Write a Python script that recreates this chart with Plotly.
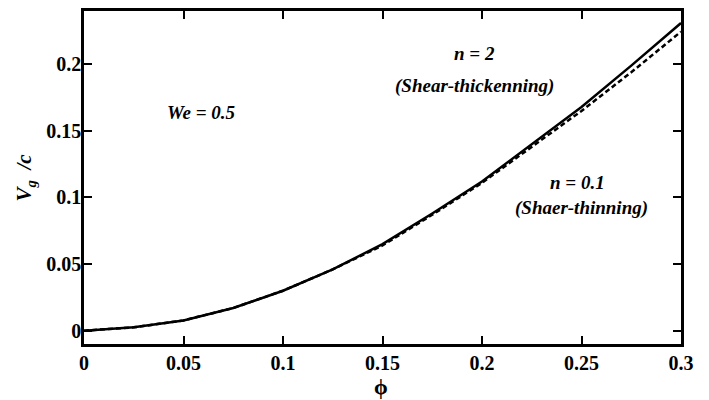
import plotly.graph_objects as go

phi = [0, 0.025, 0.05, 0.075, 0.1, 0.125, 0.15, 0.175, 0.2, 0.225, 0.25, 0.275, 0.3]
vg_n2 = [0, 0.0025, 0.0077, 0.017, 0.030, 0.046, 0.065, 0.088, 0.112, 0.140, 0.168, 0.199, 0.231]
vg_n01 = [0, 0.0025, 0.0077, 0.017, 0.030, 0.046, 0.064, 0.087, 0.111, 0.138, 0.165, 0.194, 0.2245]

x_ticks = [0, 0.05, 0.1, 0.15, 0.2, 0.25, 0.3]
x_ticklabels = ["0", "0.05", "0.1", "0.15", "0.2", "0.25", "0.3"]
y_ticks = [0, 0.05, 0.1, 0.15, 0.2]
y_ticklabels = ["0", "0.05", "0.1", "0.15", "0.2"]

FONT = "Liberation Serif, Times New Roman, DejaVu Serif, serif"

fig = go.Figure()
fig.add_trace(go.Scatter(x=phi, y=vg_n2, mode="lines",
                         line=dict(color="black", width=2.5), name="n = 2"))
fig.add_trace(go.Scatter(x=phi, y=vg_n01, mode="lines",
                         line=dict(color="black", width=2.5, dash="5px,3px"), name="n = 0.1"))

ann_font = dict(family=FONT, size=19, color="black")
annotations = [
    dict(x=0.059, y=0.164, text="<b><i>We = 0.5</i></b>"),
    dict(x=0.196, y=0.208, text="<b><i>n = 2</i></b>"),
    dict(x=0.196, y=0.184, text="<b><i>(Shear-thickenning)</i></b>"),
    dict(x=0.248, y=0.111, text="<b><i>n = 0.1</i></b>"),
    dict(x=0.250, y=0.092, text="<b><i>(Shaer-thinning)</i></b>"),
]
for a in annotations:
    fig.add_annotation(x=a["x"], y=a["y"], text=a["text"], showarrow=False,
                       xref="x", yref="y", font=ann_font,
                       xanchor="center", yanchor="middle")

# axis titles
fig.add_annotation(x=0.498, y=-0.128, xref="x domain", yref="y domain",
                   xanchor="center", yanchor="middle",
                   text="<b>ϕ</b>", showarrow=False,
                   font=dict(family=FONT, size=22, color="black"))
fig.add_annotation(x=-0.099, y=0.5, xref="x domain", yref="y domain", textangle=-90,
                   xanchor="center", yanchor="middle",
                   text="<b><i>V</i></b><sub><b><i>g</i></b></sub><b><i>  /c</i></b>",
                   showarrow=False, font=dict(family=FONT, size=21, color="black"))

axis_common = dict(
    showline=True, linecolor="black", linewidth=2.5, mirror="ticks",
    ticks="inside", ticklen=8, tickwidth=2, tickcolor="black",
    showgrid=False, zeroline=False, automargin=False,
    tickfont=dict(family=FONT, size=20, color="black"),
)

fig.update_layout(
    width=709, height=400,
    margin=dict(l=76, r=36, t=3, b=64),
    paper_bgcolor="white", plot_bgcolor="white",
    showlegend=False,
    font=dict(family=FONT, color="black"),
    xaxis=dict(range=[0, 0.3], tickvals=x_ticks, ticktext=[f"<b>{t}</b>" for t in x_ticklabels],
               ticklabelstandoff=-1, **axis_common),
    yaxis=dict(range=[-0.01, 0.24], tickvals=y_ticks, ticktext=[f"<b>{t}</b>" for t in y_ticklabels],
               ticklabelstandoff=-4, **axis_common),
)

fig.write_html("out.html")
